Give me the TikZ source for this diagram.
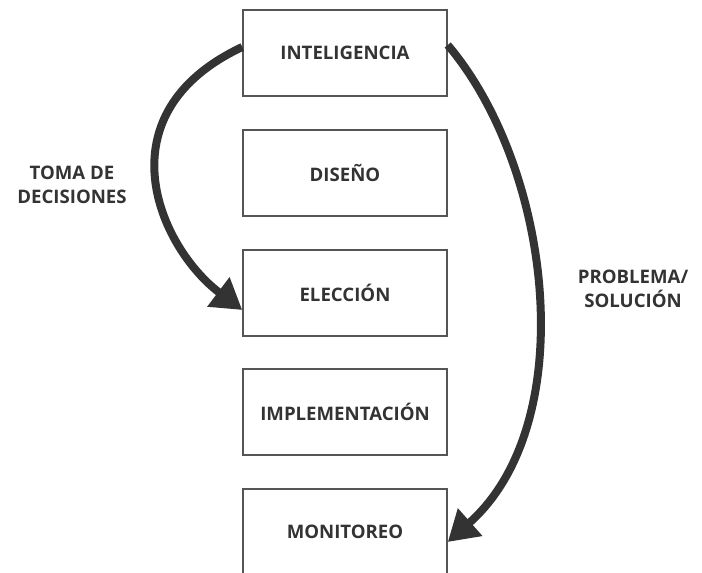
\documentclass[tikz,border=0pt]{standalone}
\usepackage{fontspec}
\setmainfont{Open Sans}
\usetikzlibrary{calc, arrows.meta, positioning}
\definecolor{tinta}{HTML}{333333}
\definecolor{borde}{HTML}{555555}

\begin{document}
\begin{tikzpicture}[x=0.02cm,y=-0.02cm,
  caja/.style={draw=borde,line width=0.03cm,minimum width=4.08cm,minimum height=1.72cm,
    text=tinta,font=\bfseries\fontsize{10.6}{13.6}\selectfont},
  etiq/.style={text=tinta,align=center,font=\bfseries\fontsize{10.6}{13.6}\selectfont},
  flecha/.style={draw=tinta,line width=0.16cm,-{Triangle[length=0.6cm,width=0.7cm]}}]
\useasboundingbox (0,0) rectangle (702,573);
\foreach \y/\t/\n in {53/INTELIGENCIA/intel,173/DISEÑO/dis,293/ELECCIÓN/elec,412/IMPLEMENTACIÓN/impl,532/MONITOREO/moni}
  \node[caja] (\n) at (345,\y) {\t};
\node[etiq] (toma) at (72,185) {TOMA DE\\DECISIONES};
\node[etiq] (prob) at (633,289) {PROBLEMA/\\SOLUCIÓN};
\draw[flecha] ($(intel.west)+(0,-6)$) .. controls (100,114) and (159,247) .. ($(elec.west)+(0,17)$);
\draw[flecha] ($(intel.east)+(0,-8)$) .. controls (552,168) and (582,423) .. ($(moni.east)+(0,10)$);
\end{tikzpicture}
\end{document}
